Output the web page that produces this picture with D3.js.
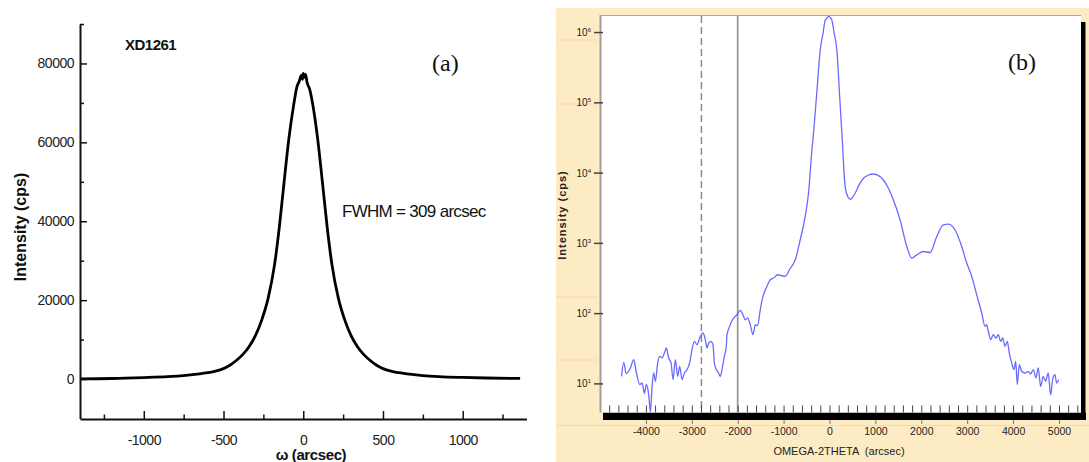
<!DOCTYPE html>
<html>
<head>
<meta charset="utf-8">
<script src="https://cdn.jsdelivr.net/npm/d3@7"></script>
<style>
  body { margin: 0; background: #fff; }
  svg { display: block; font-family: Arial, "Liberation Sans", sans-serif; }
</style>
</head>
<body>
<svg width="1089" height="462"></svg>
<script>
// (a) rocking curve, XD1261
const omegaA = [-1400, -1200, -1000, -850, -750, -650, -600, -550, -500, -460, -420, -380, -340, -300, -260, -220, -180, -150, -120, -90, -60, -40, -25, -12, -5, 0, 6, 14, 25, 40, 60, 90, 120, 150, 180, 220, 260, 300, 340, 380, 420, 460, 500, 550, 600, 650, 750, 850, 1000, 1150, 1360];
const intensityA = [60, 140, 380, 620, 880, 1300, 1600, 2000, 2650, 3500, 4700, 6200, 8200, 11000, 15000, 20500, 29000, 38500, 50000, 61000, 69500, 74000, 75500, 77000, 76000, 77500, 76500, 77200, 75000, 73500, 69500, 61000, 50000, 38500, 29000, 20500, 15000, 11000, 8200, 6200, 4700, 3500, 2650, 2000, 1600, 1300, 880, 620, 400, 260, 150];
const yTicksA = [0, 20000, 40000, 60000, 80000];
const yMinorA = [10000, 30000, 50000, 70000, 90000];
const xTicksA = [-1000, -500, 0, 500, 1000];
const xMinorA = [-1250, -750, -250, 250, 750, 1250];

// (b) omega-2theta scan (log scale)
const omegaB = [-4530, -4483, -4431, -4337, -4265, -4207, -4135, -4083, -4033, -3990, -3939, -3902, -3865, -3830, -3793, -3743, -3700, -3648, -3597, -3554, -3504, -3452, -3408, -3358, -3308, -3264, -3212, -3162, -3103, -3047, -2995, -2944, -2886, -2829, -2755, -2705, -2668, -2633, -2581, -2538, -2509, -2466, -2416, -2379, -2342, -2292, -2248, -2233, -2176, -2124, -2015, -1943, -1885, -1835, -1785, -1726, -1667, -1617, -1567, -1508, -1450, -1363, -1291, -1218, -1132, -1036, -964, -865, -746, -638, -530, -457, -383, -348, -280, -202, -140, -94, -50, -20, 10, 52, 100, 161, 220, 270, 342, 400, 450, 500, 559, 640, 740, 850, 958, 1070, 1175, 1290, 1393, 1539, 1684, 1793, 1902, 2046, 2191, 2337, 2481, 2590, 2736, 2881, 2990, 3099, 3208, 3317, 3389, 3425, 3461, 3512, 3569, 3628, 3678, 3730, 3774, 3824, 3874, 3918, 3970, 4020, 4057, 4092, 4136, 4187, 4259, 4331, 4383, 4440, 4498, 4548, 4601, 4657, 4709, 4766, 4818, 4862, 4912, 4949, 4993];
const intensityB = [12.8, 20.3, 14.0, 16.9, 22.1, 14.3, 9.8, 10.3, 7.4, 9.8, 7.0, 4.0, 9.2, 14.3, 10.9, 19.9, 24.7, 23.4, 27.5, 32.4, 23.4, 19.9, 11.5, 22.1, 12.8, 17.8, 11.5, 14.3, 16.0, 19.9, 30.7, 40.3, 36.1, 45.0, 53.0, 42.6, 32.4, 38.0, 40.3, 36.1, 19.9, 16.0, 14.3, 12.8, 16.0, 24.7, 34.2, 50.1, 65.8, 80.0, 96.4, 111, 96.4, 81.8, 86.5, 69.5, 50.1, 69.5, 67.3, 113.5, 175.8, 243.8, 303.4, 320.6, 357.3, 345.9, 338.8, 430, 583, 1122, 2399, 5164, 21280, 36730, 130600, 561000, 980000, 1496000, 1620000, 1700000, 1660000, 1496000, 1000000, 561000, 130000, 36730, 6412, 4600, 4246, 4500, 5164, 6700, 8433, 9400, 9705, 9200, 7980, 6000, 4150, 2158, 902, 617, 687, 766, 741, 1250, 1832, 1875, 1549, 902, 525, 339, 185, 102, 65.8, 69.5, 55.8, 42.7, 50.1, 45.0, 50.1, 40.3, 45.0, 34.2, 40.3, 27.5, 19.9, 16.0, 20.9, 9.8, 18.8, 15.1, 14.3, 15.1, 13.9, 16.0, 12.2, 16.9, 9.2, 12.8, 10.9, 14.3, 7.0, 11.5, 13.5, 10.3, 11.5];
const xTicksB = [-4000, -3000, -2000, -1000, 0, 1000, 2000, 3000, 4000, 5000];
const yTicksB = [1, 2, 3, 4, 5, 6]; // exponents
const markerLines = [-2790, -2000];

const svg = d3.select("svg");
const plain = d => String(d); // hyphen minus like the original

// ---------- panel (a) ----------
const xA = d3.scaleLinear().domain([-1400, 1400]).range([80, 526.5]);
const yA = d3.scaleLinear().domain([-10000, 90000]).range([418.5, 24]);

const gA = svg.append("g");

gA.append("path")
  .datum(d3.zip(omegaA, intensityA))
  .attr("fill", "none")
  .attr("stroke", "#000")
  .attr("stroke-width", 2.8)
  .attr("stroke-linejoin", "round")
  .attr("d", d3.line().x(d => xA(d[0])).y(d => yA(d[1])).curve(d3.curveMonotoneX));

function styleAxisA(g) {
  g.select(".domain").attr("stroke", "#111").attr("stroke-width", 2);
  g.selectAll(".tick line").attr("stroke", "#111").attr("stroke-width", 1.5);
  g.selectAll(".tick text")
    .attr("fill", "#222")
    .style("font-size", "14px")
    .style("letter-spacing", "-0.5px");
}

gA.append("g")
  .attr("transform", "translate(80,0)")
  .call(d3.axisLeft(yA).tickValues(yMinorA).tickSize(-4).tickSizeOuter(0).tickFormat(""))
  .call(g => g.select(".domain").remove())
  .call(g => g.selectAll("line").attr("stroke", "#111").attr("stroke-width", 1.5));
gA.append("g")
  .attr("transform", "translate(80,0)")
  .call(d3.axisLeft(yA).tickValues(yTicksA).tickSize(-7).tickSizeOuter(0).tickPadding(6).tickFormat(plain))
  .call(styleAxisA);

gA.append("g")
  .attr("transform", "translate(0,419)")
  .call(d3.axisBottom(xA).tickValues(xMinorA).tickSize(-4.5).tickSizeOuter(0).tickFormat(""))
  .call(g => g.select(".domain").remove())
  .call(g => g.selectAll("line").attr("stroke", "#111").attr("stroke-width", 1.5));
gA.append("g")
  .attr("transform", "translate(0,419)")
  .call(d3.axisBottom(xA).tickValues(xTicksA).tickSize(-8).tickSizeOuter(0).tickPadding(16).tickFormat(plain))
  .call(styleAxisA);

gA.append("text")
  .attr("transform", "translate(26,227) rotate(-90)")
  .attr("text-anchor", "middle")
  .style("font-size", "16px")
  .style("font-weight", "bold")
  .attr("fill", "#111")
  .text("Intensity (cps)");

gA.append("text")
  .attr("x", 311).attr("y", 460)
  .attr("text-anchor", "middle")
  .style("font-size", "15px")
  .style("font-weight", "bold")
  .style("letter-spacing", "-0.4px")
  .attr("fill", "#111")
  .text("ω (arcsec)");

gA.append("text")
  .attr("x", 125).attr("y", 50)
  .style("font-size", "15px")
  .style("font-weight", "bold")
  .style("letter-spacing", "-0.5px")
  .attr("fill", "#111")
  .text("XD1261");

gA.append("text")
  .attr("x", 342).attr("y", 217)
  .style("font-size", "17px")
  .style("letter-spacing", "-0.7px")
  .attr("fill", "#111")
  .text("FWHM = 309 arcsec");

gA.append("text")
  .attr("x", 432).attr("y", 71)
  .style("font-family", "'Liberation Serif', 'Times New Roman', serif")
  .style("font-size", "24px")
  .attr("fill", "#111")
  .text("(a)");

// ---------- panel (b) ----------
const xB = d3.scaleLinear().domain([-5000, 5480]).range([600, 1081]);
const yB = d3.scaleLog().domain([Math.pow(10, 0.6), Math.pow(10, 6.25)]).range([412, 15]);

const gB = svg.append("g");

gB.append("rect")
  .attr("x", 556).attr("y", 8).attr("width", 533).attr("height", 454)
  .attr("fill", "#fdebc4");

// faint scan lines in the margin
gB.selectAll(".scan")
  .data([40, 104, 297, 360])
  .join("line")
  .attr("x1", 556).attr("x2", 597)
  .attr("y1", d => d).attr("y2", d => d)
  .attr("stroke", "#f6d2c2").attr("stroke-width", 1);
gB.append("line")
  .attr("x1", 556).attr("x2", 1089).attr("y1", 425.5).attr("y2", 425.5)
  .attr("stroke", "#f6d2c2").attr("stroke-width", 1);

// drop shadow of the plot box
gB.append("rect").attr("x", 603).attr("y", 412.5).attr("width", 483).attr("height", 7.5).attr("fill", "#000");
gB.append("rect").attr("x", 1081).attr("y", 22).attr("width", 4.5).attr("height", 398).attr("fill", "#000");

gB.append("rect")
  .attr("x", 600).attr("y", 15).attr("width", 481).attr("height", 397.5)
  .attr("fill", "#fff");

gB.append("line").attr("x1", 600).attr("x2", 1081).attr("y1", 15.5).attr("y2", 15.5)
  .attr("stroke", "#a8a8a8").attr("stroke-width", 1.2);
gB.append("line").attr("x1", 600.5).attr("x2", 600.5).attr("y1", 15).attr("y2", 412.5)
  .attr("stroke", "#a0a0a0").attr("stroke-width", 2);

svg.append("defs").append("clipPath").attr("id", "clipB")
  .append("rect").attr("x", 601).attr("y", 15).attr("width", 480).attr("height", 398);

// marker lines
gB.selectAll(".marker")
  .data(markerLines)
  .join("line")
  .attr("x1", d => xB(d)).attr("x2", d => xB(d))
  .attr("y1", 16).attr("y2", 412)
  .attr("stroke", (d, i) => i === 0 ? "#8a8a8a" : "#9a9a9a")
  .attr("stroke-width", (d, i) => i === 0 ? 1.5 : 1.8)
  .attr("stroke-dasharray", (d, i) => i === 0 ? "7,4" : null);

gB.append("path")
  .datum(d3.zip(omegaB, intensityB))
  .attr("clip-path", "url(#clipB)")
  .attr("fill", "none")
  .attr("stroke", "#6a6aff")
  .attr("stroke-width", 1.3)
  .attr("d", d3.line().x(d => xB(d[0])).y(d => yB(d[1])).curve(d3.curveMonotoneX));

// minor ticks inside, every 200
gB.append("g")
  .attr("transform", "translate(0,412.5)")
  .call(d3.axisBottom(xB).tickValues(d3.range(-4800, 5401, 200)).tickSize(-7).tickFormat(""))
  .call(g => g.select(".domain").remove())
  .call(g => g.selectAll("line").attr("stroke", "#444").attr("stroke-width", 1));

// labelled ticks under the shadow bar
gB.append("g")
  .attr("transform", "translate(0,420)")
  .call(d3.axisBottom(xB).tickValues(xTicksB).tickSize(4).tickPadding(4).tickFormat(plain))
  .call(g => g.select(".domain").remove())
  .call(g => g.selectAll("line").attr("stroke", "#777").attr("stroke-width", 1))
  .call(g => g.selectAll("text").attr("fill", "#222").style("font-size", "10.5px"));

// log y ticks
const yAxisB = gB.append("g");
yAxisB.selectAll("line")
  .data(yTicksB)
  .join("line")
  .attr("x1", 594).attr("x2", 603)
  .attr("y1", d => yB(Math.pow(10, d))).attr("y2", d => yB(Math.pow(10, d)))
  .attr("stroke", "#444").attr("stroke-width", 1.5);
const yLab = yAxisB.selectAll("text")
  .data(yTicksB)
  .join("text")
  .attr("x", 591)
  .attr("y", d => yB(Math.pow(10, d)) + 3.5)
  .attr("text-anchor", "end")
  .attr("fill", "#222")
  .style("font-size", "10px");
yLab.append("tspan").text("10");
yLab.append("tspan").attr("dy", -4).style("font-size", "6px").text(d => d);

gB.append("text")
  .attr("transform", "translate(566,215) rotate(-90)")
  .attr("text-anchor", "middle")
  .style("font-size", "11px")
  .style("font-weight", "bold")
  .style("letter-spacing", "1px")
  .attr("fill", "#222")
  .text("Intensity (cps)");

gB.append("text")
  .attr("x", 839).attr("y", 455)
  .attr("text-anchor", "middle")
  .attr("xml:space", "preserve")
  .style("white-space", "pre")
  .style("font-size", "11px")
  .attr("fill", "#222")
  .text("OMEGA-2THETA  (arcsec)");

gB.append("text")
  .attr("x", 1008).attr("y", 70)
  .style("font-family", "'Liberation Serif', 'Times New Roman', serif")
  .style("font-size", "24px")
  .attr("fill", "#111")
  .text("(b)");
</script>
</body>
</html>
